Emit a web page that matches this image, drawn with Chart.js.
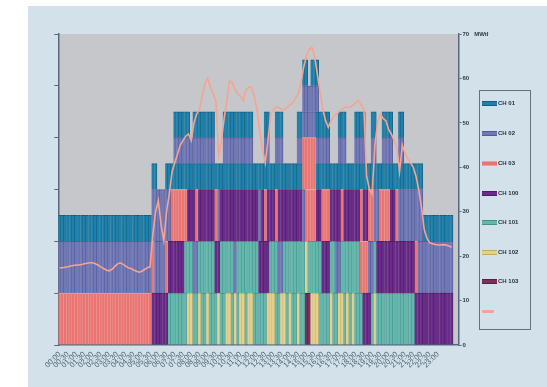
<!DOCTYPE html>
<html>
<head>
<meta charset="utf-8">
<script src="https://cdn.jsdelivr.net/npm/chart.js@4.4.1/dist/chart.umd.min.js"></script>
<style>
  html, body { margin: 0; padding: 0; background: #ffffff; }
  #wrap { position: relative; width: 547px; height: 387px; overflow: hidden; background: #ffffff; }
  #c { position: absolute; left: 28px; top: 6px; }
  #legend {
    position: absolute; left: 479px; top: 90px; width: 52px; height: 240px;
    box-sizing: border-box; border: 1.5px solid #5f7380;
    font-family: "Liberation Sans", Arial, sans-serif;
  }
  .item { position: absolute; left: 2px; height: 6px; display: flex; align-items: center; }
  .sw { width: 15px; height: 3px; border-top: 1px solid; border-bottom: 1px solid; }
  .tx { font-size: 6px; line-height: 6px; color: #26303a; margin-left: 1px; white-space: nowrap; font-weight: bold; }
</style>
</head>
<body>
<div id="wrap">
  <canvas id="c" width="519" height="381"></canvas>
  <div id="legend"></div>
</div>
<script>
// Units shown in the legend (code -> name)
const unitCodes = ['A', 'B', 'C', 'D', 'E', 'F', 'G'];
const unitNames = ['CH 01', 'CH 02', 'CH 03', 'CH 100', 'CH 101', 'CH 102', 'CH 103'];
const lineName = '';

// Time slots: one bar every 10 minutes over the day
const timeSlots = [];
for (let m = 0; m < 24 * 60; m += 10) {
  const h = String(Math.floor(m / 60)).padStart(2, '0');
  const mm = String(m % 60).padStart(2, '0');
  timeSlots.push(h + ':' + mm);
}
const categories = timeSlots.concat(['', '']);

// Right axis tick values
const outputTicks = [0, 10, 20, 30, 40, 50, 60, 70];
const outputUnit = 'MWth';

// Stack bands, bottom to top, as runs of [bar count, unit code].
// Upper case = full block (1), lower case = half block (0.5), '.' = empty.
const band1 = [[34,'C'],[6,'D'],[7,'E'],[2,'F'],[2,'E'],[1,'F'],[2,'E'],[1,'F'],[3,'E'],[1,'F'],
  [2,'E'],[2,'F'],[1,'E'],[1,'F'],[1,'E'],[2,'F'],[1,'E'],[2,'F'],[5,'E'],[3,'F'],[2,'E'],[2,'F'],
  [1,'E'],[1,'F'],[2,'E'],[1,'F'],[2,'E'],[2,'G'],[3,'F'],[4,'E'],[1,'F'],[2,'E'],[2,'F'],[1,'E'],
  [1,'F'],[1,'E'],[1,'F'],[3,'E'],[3,'D'],[1,'E'],[1,'F'],[14,'E'],[14,'D']];
const band2 = [[34,'B'],[1,'C'],[4,'B'],[1,'C'],[6,'D'],[3,'E'],[2,'B'],[6,'E'],[2,'D'],[5,'E'],
  [1,'B'],[8,'E'],[4,'D'],[3,'E'],[2,'B'],[8,'E'],[1,'F'],[5,'E'],[3,'D'],[2,'E'],[2,'B'],[7,'E'],
  [3,'C'],[2,'B'],[1,'E'],[14,'D'],[1,'C'],[13,'B']];
const band3 = [[34,'a'],[7,'B'],[6,'C'],[3,'D'],[1,'C'],[6,'D'],[1,'C'],[1,'B'],[14,'D'],[1,'B'],
  [1,'D'],[1,'C'],[3,'D'],[1,'C'],[9,'D'],[1,'B'],[4,'C'],[2,'D'],[3,'C'],[4,'D'],[1,'C'],[6,'D'],
  [1,'C'],[2,'D'],[2,'C'],[2,'B'],[4,'C'],[2,'D'],[1,'C'],[9,'B'],[11,'a']];
const band4 = [[34,'.'],[2,'a'],[3,'.'],[50,'a'],[5,'C'],[39,'a'],[11,'.']];
const band5 = [[42,'.'],[15,'b'],[3,'.'],[11,'b'],[4,'.'],[2,'b'],[2,'.'],[3,'b'],[5,'.'],[12,'b'],
  [3,'.'],[3,'b'],[3,'.'],[4,'b'],[2,'.'],[2,'b'],[2,'.'],[4,'b'],[2,'.'],[2,'b'],[18,'.']];
const band6 = [[42,'.'],[6,'a'],[1,'.'],[8,'a'],[3,'.'],[11,'a'],[4,'.'],[2,'a'],[2,'.'],[3,'a'],
  [5,'.'],[2,'a'],[5,'b'],[5,'a'],[3,'.'],[3,'a'],[3,'.'],[4,'a'],[2,'.'],[2,'a'],[2,'.'],[4,'a'],
  [2,'.'],[2,'a'],[18,'.']];
const band7 = [[89,'.'],[2,'a'],[1,'.'],[2,'a'],[1,'b'],[49,'.']];
const band8 = [[94,'.'],[1,'a'],[49,'.']];

// Heat output per 10-minute slot (right axis)
const output = [
  17.4, 17.4, 17.5, 17.6, 17.8, 17.9, 18.0, 18.0, 18.1, 18.3,
  18.4, 18.5, 18.5, 18.3, 18.0, 17.6, 17.2, 16.9, 16.7, 17.0,
  17.6, 18.2, 18.5, 18.2, 17.8, 17.4, 17.2, 16.9, 16.6, 16.4,
  16.6, 17.0, 17.4, 17.6,
  25, 30, 32.5, 27, 23.5, 30, 34, 39, 41, 43,
  45, 46, 47, 47.5, 46, 50, 52, 53, 56, 59,
  60, 58, 56.5, 55, 42.5, 46, 51, 55, 59.5, 59,
  57.5, 56.5, 56, 55, 57.5, 58, 58, 56, 53, 48,
  44, 41, 46, 52, 53, 53.5, 53.5, 53, 53, 53.5,
  54, 54.5, 55.5, 56.5, 59, 62.5, 65, 66.5, 67, 65,
  61, 57, 53, 50.5, 49, 50.5, 51.5, 52, 52.5, 53,
  53.5, 53.5, 53.5, 54, 54.5, 55, 54, 53, 38, 35,
  34, 45, 50, 52, 51, 50.5, 48.5, 47.5, 46, 44.5,
  39, 45, 43, 42, 41, 40, 38, 35, 31, 26,
  24, 23, 22.8, 22.6, 22.5, 22.5, 22.6, 22.5, 22.3, 22
];

// Colours per unit: block fill and block edge
const unitFill = { A: '#1f81ab', B: '#7178b8', C: '#ea7472', D: '#6a2b8a', E: '#63b8ae', F: '#e6d18c', G: '#7c2f5f' };
const unitEdge = { A: '#165f80', B: '#545a92', C: '#f29d97', D: '#4d1e66', E: '#479089', F: '#c2ab6a', G: '#5a2044' };
const lineColor = '#f6a491';

const expand = runs => runs.flatMap(([n, c]) => Array(n).fill(c));
const bands = [band1, band2, band3, band4, band5, band6, band7, band8].map(expand);
const blockSize = c => c === '.' ? null : (c === c.toUpperCase() ? 1 : 0.5);
const key = c => c === '.' ? 'A' : c.toUpperCase();

const barSets = bands.map((band, k) => ({
  type: 'bar',
  label: 'band ' + (k + 1),
  data: band.map(blockSize),
  backgroundColor: band.map(c => unitFill[key(c)]),
  borderColor: band.map(c => unitEdge[key(c)]),
  borderWidth: { top: 1, right: 0.8, bottom: 0, left: 0 },
  borderSkipped: false,
  barPercentage: 1,
  categoryPercentage: 1,
  stack: 'units',
  yAxisID: 'y',
  order: 1
}));

const lineSet = {
  type: 'line',
  label: lineName,
  data: output,
  borderColor: lineColor,
  borderWidth: 1.6,
  pointRadius: 0,
  tension: 0,
  yAxisID: 'y2',
  order: 0
};

const axisColor = '#56697a';

const plotBackground = {
  id: 'plotBackground',
  beforeDraw(chart) {
    const { ctx, chartArea: a } = chart;
    ctx.save();
    ctx.fillStyle = '#d3e2ea';
    ctx.fillRect(0, 0, chart.width, chart.height);
    ctx.fillStyle = '#c6c7ca';
    ctx.fillRect(a.left, a.top, a.right - a.left, a.bottom - a.top);
    ctx.restore();
  }
};

new Chart(document.getElementById('c'), {
  data: { labels: categories, datasets: [lineSet, ...barSets] },
  options: {
    responsive: false,
    animation: false,
    devicePixelRatio: 1,
    events: [],
    layout: { padding: { left: 24.3, right: 58.5, top: 28, bottom: 10 } },
    plugins: { legend: { display: false }, tooltip: { enabled: false } },
    scales: {
      x: {
        type: 'category',
        stacked: true,
        offset: true,
        grid: { display: true, drawOnChartArea: false, drawTicks: false },
        border: { display: true, color: axisColor, width: 1.5 },
        ticks: {
          autoSkip: false, maxRotation: 45, minRotation: 45, padding: 5,
          color: '#4a5f6d',
          font: { size: 7.5, family: 'Liberation Sans' },
          callback: (v, i) => (i % 3 === 0 && i <= 138) ? categories[i] : ''
        },
        afterFit: s => { s.height = 32; }
      },
      y: {
        position: 'left',
        stacked: true,
        min: 0, max: 6,
        ticks: { display: false, stepSize: 1 },
        grid: { drawOnChartArea: false, drawTicks: true, tickLength: 4, color: axisColor },
        border: { color: axisColor, width: 1.5 },
        afterFit: s => { s.width = 6; }
      },
      y2: {
        position: 'right',
        min: 0, max: 70,
        afterBuildTicks: s => { s.ticks = outputTicks.map(v => ({ value: v })); },
        ticks: {
          padding: 1,
          color: '#2f3a44',
          font: { size: 6, family: 'Liberation Sans', weight: 'bold' },
          callback: v => v === 70 ? v + '   ' + outputUnit : String(v)
        },
        grid: { drawOnChartArea: false, drawTicks: true, tickLength: 3, color: axisColor },
        border: { color: axisColor, width: 1.5 },
        afterFit: s => { s.width = 30; }
      }
    }
  },
  plugins: [plotBackground]
});

// Legend: one entry per unit, then the output line
const legend = document.getElementById('legend');
const rowTops = [9, 39, 69, 99, 128, 158, 187, 217];
unitCodes.forEach((code, i) => {
  const row = document.createElement('div');
  row.className = 'item';
  row.style.top = rowTops[i] + 'px';
  const sw = document.createElement('span');
  sw.className = 'sw';
  sw.style.background = unitFill[code];
  sw.style.borderColor = unitEdge[code];
  const tx = document.createElement('span');
  tx.className = 'tx';
  tx.textContent = unitNames[i];
  row.appendChild(sw); row.appendChild(tx);
  legend.appendChild(row);
});
const lrow = document.createElement('div');
lrow.className = 'item';
lrow.style.top = rowTops[7] + 'px';
const lsw = document.createElement('span');
lsw.style.cssText = 'width:12px;height:3px;background:' + lineColor + ';border-radius:1px;';
lrow.appendChild(lsw);
if (lineName) { const t = document.createElement('span'); t.className = 'tx'; t.textContent = lineName; lrow.appendChild(t); }
legend.appendChild(lrow);
</script>
</body>
</html>
